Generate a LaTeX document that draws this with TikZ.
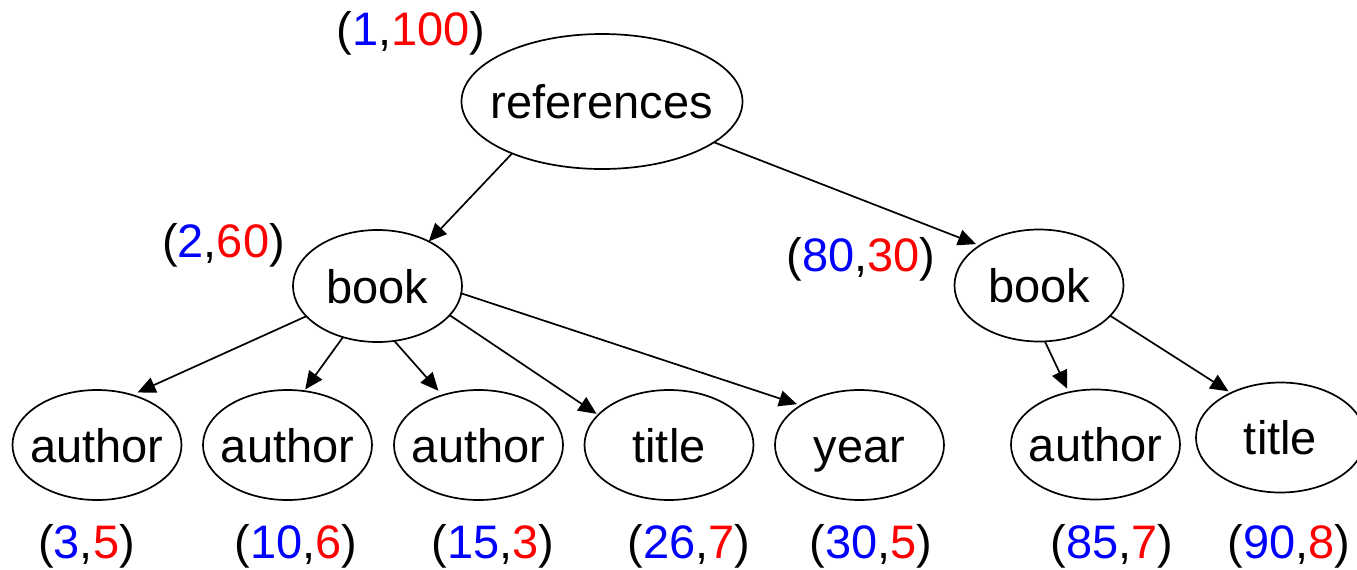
\documentclass[tikz,border=0pt]{standalone}
\usepackage{fontspec}
\setmainfont{Liberation Sans}
\usetikzlibrary{shapes.geometric,arrows.meta}
\newcommand\ellt[1]{\makebox[0pt][c]{#1}}
\newcommand\lbl[2]{(\textcolor{blue}{#1},\textcolor{red}{#2})}
\begin{document}
\begin{tikzpicture}[x=0.5pt,y=-0.5pt,
  every node/.style={font=\fontsize{23.5pt}{28pt}\selectfont},
  ell/.style={ellipse, draw, line width=0.85pt, inner sep=0pt, outer sep=0pt,
    text height=17pt, text depth=0pt},
  refell/.style={ell, minimum width=140.5pt, minimum height=67.5pt},
  midell/.style={ell, minimum width=84.5pt, minimum height=56pt},
  leafell/.style={ell, minimum width=84.5pt, minimum height=55pt},
  pairlbl/.style={anchor=base, inner sep=0pt},
  edge/.style={line width=0.85pt, -{Triangle[length=9pt,width=8pt]}}]
\useasboundingbox (0,0) rectangle (1357,569);
\clip (0,0) rectangle (1357,569);

% tree nodes
\node[refell]  (ref) at (602,101.5) {\ellt{references}};
\node[midell]  (b1)  at (377.5,286) {\ellt{book}};
\node[midell]  (b2)  at (1039,285.5) {\ellt{book}};
\node[leafell] (a1)  at (97,445) {\ellt{author}};
\node[leafell] (a2)  at (287.5,445) {\ellt{author}};
\node[leafell] (a3)  at (478.5,445) {\ellt{author}};
\node[leafell] (t1)  at (669,445) {\ellt{title}};
\node[leafell] (y1)  at (859.5,445) {\ellt{year}};
\node[leafell] (a4)  at (1095.5,444.5) {\ellt{author}};
\node[leafell] (t2)  at (1280.5,437.5) {\ellt{title}};

% pair labels
\node[pairlbl] (lref) at (411,45) {\lbl{1}{100}};
\node[pairlbl] (lb1)  at (223.5,257) {\lbl{2}{60}};
\node[pairlbl] (lb2)  at (861,271) {\lbl{80}{30}};
\node[pairlbl] (la1)  at (86.5,558) {\lbl{3}{5}};
\node[pairlbl] (la2)  at (296,558) {\lbl{10}{6}};
\node[pairlbl] (la3)  at (493,558) {\lbl{15}{3}};
\node[pairlbl] (lt1)  at (689,558) {\lbl{26}{7}};
\node[pairlbl] (ly1)  at (871,558) {\lbl{30}{5}};
\node[pairlbl] (la4)  at (1112,558) {\lbl{85}{7}};
\node[pairlbl] (lt2)  at (1289,558) {\lbl{90}{8}};

% connectors
\draw[edge] (ref.210) -- (b1.41);
\draw[edge, shorten >=2pt] (ref.340) -- (b2.146);
\draw[edge, shorten >=3pt] (b1.203) -- (a1.55);
\draw[edge, shorten >=1pt] (b1.236) -- (a2.73);
\draw[edge, shorten >=3pt] (b1.287) -- (a3.126);
\draw[edge, shorten >=1pt] (b1.338) -- (t1.157);
\draw[edge, shorten >=2pt] (b1.355.5) -- (y1.146);
\draw[edge, shorten >=2pt] (b2.276) -- (a4.117);
\draw[edge, shorten >=1.5pt] (b2.337) -- (t2.138);
\end{tikzpicture}
\end{document}
